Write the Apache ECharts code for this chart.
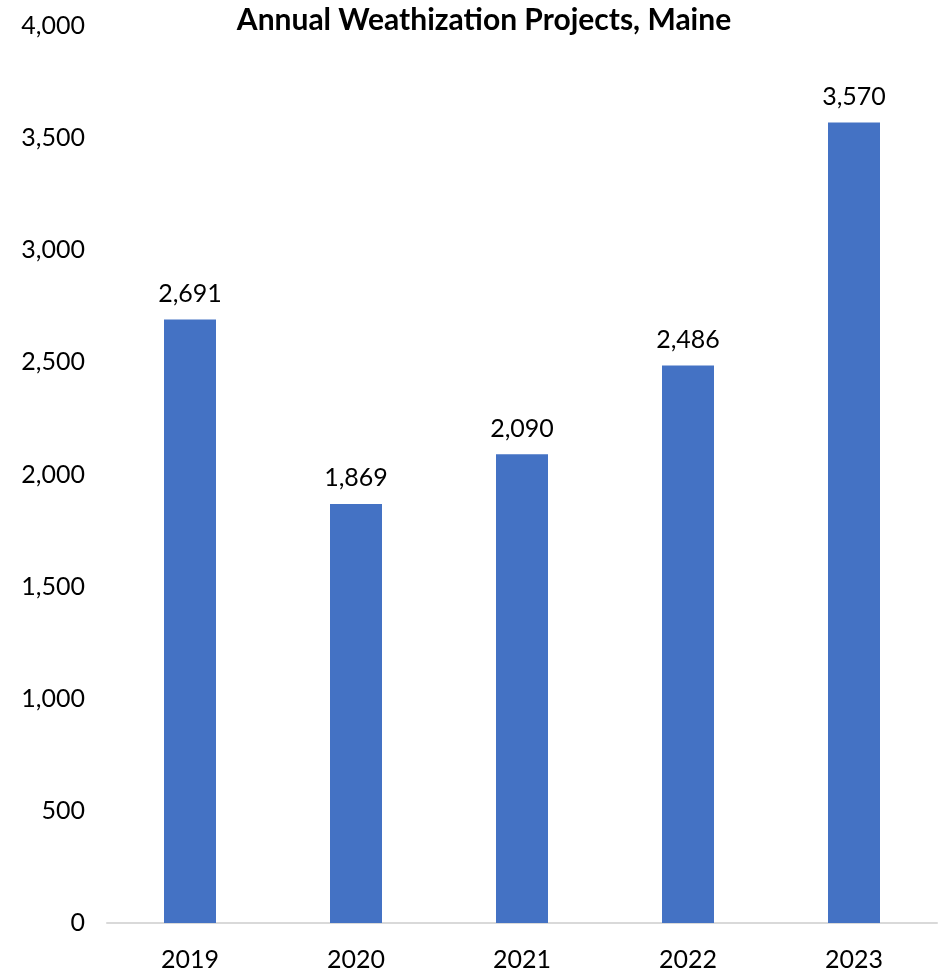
<!DOCTYPE html>
<html><head><meta charset="utf-8">
<script src="https://cdn.jsdelivr.net/npm/echarts@6/dist/echarts.min.js"></script>
<style>html,body{margin:0;padding:0;background:#fff}#c{width:941px;height:972px}</style>
</head><body><div id="c"></div>
<script>
const categories = ['2019', '2020', '2021', '2022', '2023'];
const projects = [2691, 1869, 2090, 2486, 3570];
const yTicks = [0, 500, 1000, 1500, 2000, 2500, 3000, 3500, 4000];

const FONT = 'Lato, "Open Sans", sans-serif';
const fmt = v => v.toLocaleString('en-US');
const chart = echarts.init(document.getElementById('c'));
chart.setOption({
  animation: false,
  title: {
    text: 'Annual Weathization Projects, Maine',
    left: 479, top: 0, textAlign: 'center',
    textStyle: { fontFamily: FONT, fontWeight: 'bold', fontSize: 30, color: '#000' }
  },
  grid: { left: 107, right: 4, top: 26, bottom: 48, containLabel: false },
  xAxis: {
    type: 'category', data: categories,
    axisLine: { lineStyle: { color: '#d9d9d9', width: 2 } },
    axisTick: { show: false },
    axisLabel: { fontFamily: FONT, fontSize: 25, color: '#000', margin: 24 }
  },
  yAxis: {
    type: 'value', min: yTicks[0], max: yTicks[yTicks.length - 1], interval: 500,
    splitLine: { show: false }, axisLine: { show: false }, axisTick: { show: false },
    axisLabel: { fontFamily: FONT, fontSize: 25, color: '#000', margin: 22, formatter: v => fmt(v) }
  },
  series: [{
    type: 'bar', data: projects, barWidth: 52,
    itemStyle: { color: '#4472c4' },
    label: { show: true, position: 'top', distance: 13, fontFamily: FONT, fontSize: 25, color: '#000', formatter: p => fmt(p.value) }
  }]
});
</script></body></html>
